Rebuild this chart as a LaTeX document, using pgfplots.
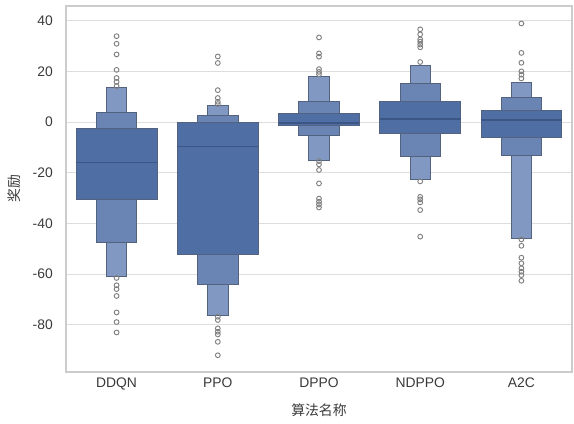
\documentclass[border=0pt]{standalone}
\usepackage{pgfplots}
\pgfplotsset{compat=1.18}
\usepackage{fontspec}
\setmainfont{Liberation Sans}
\newfontfamily\cjk{Noto Sans CJK SC}
\definecolor{lvA}{HTML}{4F6EA3}
\definecolor{lvB}{HTML}{6A84B3}
\definecolor{lvC}{HTML}{8199C2}
\definecolor{edgec}{HTML}{52627F}
\definecolor{medc}{HTML}{3B5585}
\definecolor{gridc}{HTML}{DDDDDD}
\definecolor{framec}{HTML}{CCCCCC}
\definecolor{txtc}{HTML}{3A3A3A}
\definecolor{outc}{HTML}{808080}
\begin{document}
\begin{tikzpicture}
\begin{axis}[
  scale only axis,
  width=379.5pt, height=274.5pt,
  xmin=-0.5, xmax=4.5,
  ymin=-98.6, ymax=45.8,
  xtick={0,1,2,3,4},
  xticklabels={DDQN,PPO,DPPO,NDPPO,A2C},
  ytick={-80,-60,-40,-20,0,20,40},
  major tick length=0pt,
  ymajorgrids=true,
  grid style={color=gridc, line width=0.8pt},
  axis line style={color=framec, line width=0.9pt},
  /pgf/number format/assume math mode=true,
  tick label style={font=\fontsize{10.4}{12}\selectfont, text=txtc},
  xticklabel style={anchor=north, inner sep=0pt, yshift=-3.9pt},
  yticklabel style={anchor=east, inner sep=0pt, xshift=-9.75pt},
  xlabel={\cjk 算法名称},
  ylabel={\cjk 奖励},
  label style={font=\fontsize{10.4}{12}\selectfont, text=txtc},
  xlabel style={at={(axis description cs:0.5,-0.1038)}, anchor=center},
  ylabel style={at={(axis description cs:-0.1028,0.5)}, anchor=center},
  clip=false,
]
% ---- level 3 (outer, narrow) boxes
\addplot[fill=lvC, draw=edgec, line width=0.6pt] coordinates {(-0.1,-61.0) (0.1,-61.0) (0.1,13.7) (-0.1,13.7)} -- cycle;
\addplot[fill=lvC, draw=edgec, line width=0.6pt] coordinates {(0.9,-76.3) (1.1,-76.3) (1.1,6.6) (0.9,6.6)} -- cycle;
\addplot[fill=lvC, draw=edgec, line width=0.6pt] coordinates {(1.9,-15.0) (2.1,-15.0) (2.1,17.9) (1.9,17.9)} -- cycle;
\addplot[fill=lvC, draw=edgec, line width=0.6pt] coordinates {(2.9,-22.6) (3.1,-22.6) (3.1,22.2) (2.9,22.2)} -- cycle;
\addplot[fill=lvC, draw=edgec, line width=0.6pt] coordinates {(3.9,-45.8) (4.1,-45.8) (4.1,15.8) (3.9,15.8)} -- cycle;
% ---- level 2 boxes
\addplot[fill=lvB, draw=edgec, line width=0.6pt] coordinates {(-0.2,-47.5) (0.2,-47.5) (0.2,3.9) (-0.2,3.9)} -- cycle;
\addplot[fill=lvB, draw=edgec, line width=0.6pt] coordinates {(0.8,-63.9) (1.2,-63.9) (1.2,2.5) (0.8,2.5)} -- cycle;
\addplot[fill=lvB, draw=edgec, line width=0.6pt] coordinates {(1.8,-5.1) (2.2,-5.1) (2.2,8.0) (1.8,8.0)} -- cycle;
\addplot[fill=lvB, draw=edgec, line width=0.6pt] coordinates {(2.8,-13.4) (3.2,-13.4) (3.2,15.3) (2.8,15.3)} -- cycle;
\addplot[fill=lvB, draw=edgec, line width=0.6pt] coordinates {(3.8,-13.3) (4.2,-13.3) (4.2,9.9) (3.8,9.9)} -- cycle;
% ---- level 1 (inner, wide) boxes
\addplot[fill=lvA, draw=edgec, line width=0.6pt] coordinates {(-0.4,-30.4) (0.4,-30.4) (0.4,-2.5) (-0.4,-2.5)} -- cycle;
\addplot[fill=lvA, draw=edgec, line width=0.6pt] coordinates {(0.6,-52.3) (1.4,-52.3) (1.4,0.0) (0.6,0.0)} -- cycle;
\addplot[fill=lvA, draw=edgec, line width=0.6pt] coordinates {(1.6,-1.4) (2.4,-1.4) (2.4,3.4) (1.6,3.4)} -- cycle;
\addplot[fill=lvA, draw=edgec, line width=0.6pt] coordinates {(2.6,-4.3) (3.4,-4.3) (3.4,8.0) (2.6,8.0)} -- cycle;
\addplot[fill=lvA, draw=edgec, line width=0.6pt] coordinates {(3.6,-5.9) (4.4,-5.9) (4.4,4.7) (3.6,4.7)} -- cycle;
% ---- medians
\addplot[medc, line width=1.1pt] coordinates {(-0.4,-15.9) (0.4,-15.9)};
\addplot[medc, line width=1.1pt] coordinates {(0.6,-9.6) (1.4,-9.6)};
\addplot[medc, line width=1.1pt] coordinates {(1.6,-0.3) (2.4,-0.3)};
\addplot[medc, line width=1.1pt] coordinates {(2.6,1.2) (3.4,1.2)};
\addplot[medc, line width=1.1pt] coordinates {(3.6,0.9) (4.4,0.9)};
% ---- outliers
\addplot[only marks, mark=o, mark size=1.8pt, mark options={draw=outc, line width=0.7pt}] table {
x y
0 33.9
0 30.9
0 26.7
0 20.6
0 17.4
0 15.9
0 14.2
0 -61.5
0 -64.4
0 -65.9
0 -68.6
0 -75.1
0 -78.9
0 -83.0
1 25.9
1 23.3
1 12.6
1 9.5
1 8.0
1 7.1
1 -76.8
1 -78.1
1 -81.4
1 -82.7
1 -83.8
1 -86.7
1 -92.0
2 33.4
2 27.1
2 25.8
2 20.9
2 19.8
2 18.9
2 -15.4
2 -16.7
2 -18.9
2 -24.2
2 -30.2
2 -31.4
2 -32.5
2 -33.7
3 36.6
3 34.6
3 32.6
3 31.7
3 30.6
3 29.5
3 23.7
3 -23.4
3 -29.5
3 -30.5
3 -31.7
3 -34.7
3 -45.2
4 38.9
4 27.3
4 23.4
4 20.0
4 18.7
4 17.2
4 -46.3
4 -48.8
4 -53.5
4 -55.7
4 -57.7
4 -59.0
4 -60.4
4 -62.6
};
\end{axis}
\pgfresetboundingbox
\path ([shift={(-49.5pt,-39pt)}]current axis.south west) rectangle ([shift={(1.5pt,4.5pt)}]current axis.north east);
\end{tikzpicture}
\end{document}
